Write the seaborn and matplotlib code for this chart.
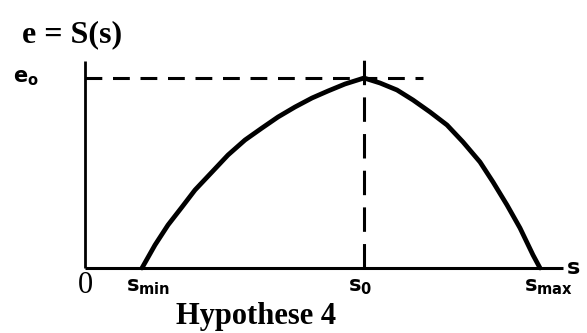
import numpy as np
import matplotlib
matplotlib.use("Agg")
import matplotlib.pyplot as plt
import seaborn as sns
import pandas as pd

# curve e = S(s)
s_curve = [57, 70, 83, 97, 110, 127, 143, 160, 177, 193, 210, 227, 243, 260, 279,
           295, 312, 328, 345, 362, 378, 395, 408, 422, 435, 448, 455]
e_curve = [0, 23, 43, 61, 78, 96, 113, 128, 140, 151, 161, 170, 177, 184, 190,
           185, 178, 168, 156, 143, 126, 106, 86, 63, 40, 13, 0]

s_min, s_0, s_max = 57, 279, 455
e_0 = 190
s_axis_end = 478
e_axis_end = 207

tick_labels = ["s$_{min}$", "s$_{0}$", "s$_{max}$"]

sns.set_style("white")
plt.rcParams["mathtext.default"] = "regular"
plt.rcParams["text.color"] = "black"

fig = plt.figure(figsize=(5.87, 3.33), dpi=100)
ax = fig.add_axes([0, 0, 1, 1])

# axes
ax.plot([0, s_axis_end], [0, 0], color="black", lw=2.2, solid_capstyle="butt")
ax.plot([0, 0], [0, e_axis_end], color="black", lw=2.0, solid_capstyle="butt")

# dashed guides
ax.plot([0, s_0 + 59], [e_0, e_0], color="black", lw=2.2, dashes=(5.5, 3.5))
ax.plot([s_0, s_0], [0, e_axis_end + 2], color="black", lw=2.2, dashes=(8, 4))

df = pd.DataFrame({"s": s_curve, "e": e_curve})
sns.lineplot(data=df, x="s", y="e", ax=ax, color="black", lw=3.4, sort=False)
ax.lines[-1].set_solid_joinstyle("round")
ax.set_xlim(-85, 502)
ax.set_ylim(-65, 268)
ax.axis("off")

serif = "Liberation Serif"
sans = "DejaVu Sans"
ax.text(-63, 226, "e = S(s)", fontsize=23, fontfamily=serif, fontweight="bold",
        ha="left", va="baseline")
ax.text(-72, 186, "e$_o$", fontsize=15, fontfamily=sans, fontweight="bold",
        ha="left", va="baseline")
ax.text(0, -3, "0", fontsize=22, fontfamily=serif, ha="center", va="top")
for x, lab in zip([s_min, s_0, s_max], tick_labels):
    ax.text(x - 16, -23, lab, fontsize=15, fontfamily=sans, fontweight="bold",
            ha="left", va="baseline")
ax.text(s_axis_end + 4, -6, "s", fontsize=16, fontfamily=sans, fontweight="bold",
        ha="left", va="baseline")
ax.text(171, -56, "Hypothese 4", fontsize=22, fontfamily=serif, fontweight="bold",
        ha="center", va="baseline")

fig.savefig("out.png", dpi=100)
